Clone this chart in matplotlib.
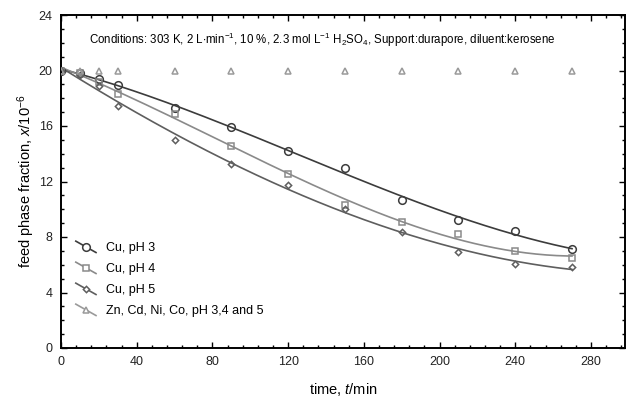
import matplotlib
matplotlib.use("Agg")
import matplotlib.pyplot as plt
import numpy as np
from matplotlib.legend_handler import HandlerBase
from matplotlib.lines import Line2D

plt.rcParams['font.family'] = ['Liberation Sans', 'DejaVu Sans']
plt.rcParams['mathtext.fontset'] = 'custom'
plt.rcParams['mathtext.rm'] = 'Liberation Sans'
plt.rcParams['mathtext.it'] = 'Liberation Sans:italic'

# sampling times (min)
t = [0, 10, 20, 30, 60, 90, 120, 150, 180, 210, 240, 270]

# feed phase fraction x/10^-6
cu_ph3 = [20.0, 19.85, 19.4, 18.95, 17.3, 15.9, 14.2, 12.95, 10.7, 9.25, 8.4, 7.1]
cu_ph4 = [20.0, 19.85, 19.2, 18.3, 16.85, 14.55, 12.55, 10.3, 9.1, 8.2, 7.0, 6.5]
cu_ph5 = [20.0, 19.7, 18.9, 17.45, 15.0, 13.25, 11.75, 10.05, 8.35, 6.9, 6.05, 5.85]
others = [20.0] * len(t)

labels = ['Cu, pH 3', 'Cu, pH 4', 'Cu, pH 5', 'Zn, Cd, Ni, Co, pH 3,4 and 5']
colors = ['#3c3c3c', '#8a8a8a', '#5e5e5e', '#9a9a9a']
line_colors = ['#3c3c3c', '#8a8a8a', '#5e5e5e', '#9a9a9a']
markers = ['o', 's', 'D', '^']
msizes = [5.5, 5, 3.2, 4]


class SlantHandler(HandlerBase):
    # legend key drawn as a short descending line with the marker in the middle
    def create_artists(self, legend, orig, xdescent, ydescent, width, height,
                       fontsize, trans):
        x0, x1 = -xdescent + width * 0.15, -xdescent + width
        y0, y1 = -ydescent + height * 1.1, -ydescent - height * 0.2
        ln = Line2D([x0, x1], [y0, y1], color=orig.get_color(), lw=1.2)
        mk = Line2D([(x0 + x1) / 2], [(y0 + y1) / 2], marker=orig.get_marker(),
                    markersize=orig.get_markersize(), markerfacecolor='white',
                    markeredgecolor=orig.get_markeredgecolor(),
                    markeredgewidth=1.1, linestyle='none')
        for a in (ln, mk):
            a.set_transform(trans)
        return [ln, mk]


fig = plt.figure(figsize=(6.31, 3.99), dpi=100)
ax = fig.add_axes([61 / 631, 1 - 348 / 399, (625 - 61) / 631, (348 - 15) / 399])

tt = np.linspace(0, 270, 200)
series = [cu_ph3, cu_ph4, cu_ph5, others]
handles = []
for i, ys in enumerate(series):
    if i < 3:
        coef = np.polyfit(t, ys, 3)
        ax.plot(tt, np.polyval(coef, tt), color=line_colors[i], lw=1.2, zorder=2)
    ax.plot(t, ys, linestyle='none', marker=markers[i], markersize=msizes[i],
            markerfacecolor='none', markeredgecolor=colors[i],
            markeredgewidth=1.1, zorder=3)
    handles.append(Line2D([], [], color=line_colors[i], marker=markers[i],
                          markersize=msizes[i], markeredgecolor=colors[i]))

ax.set_xlim(0, 298)
ax.set_ylim(0, 24)
ax.set_xticks(np.arange(0, 281, 40))
ax.set_xticks(np.arange(0, 298, 8), minor=True)
ax.set_yticks(np.arange(0, 25, 4))
ax.set_yticks(np.arange(0, 25, 1), minor=True)
ax.tick_params(which='both', direction='in', top=True, right=True,
               labelsize=9, width=1, pad=6, labelcolor='#222222')
ax.tick_params(which='major', length=4)
ax.tick_params(which='minor', length=2)
for s in ax.spines.values():
    s.set_linewidth(1.4)

ax.set_xlabel('time, $\\it{t}$/min', fontsize=10.5, labelpad=9)
ax.set_ylabel('feed phase fraction, $\\it{x}$/10$^{-6}$', fontsize=10.5,
              labelpad=1)

ax.text(0.464, 0.925,
        'Conditions: 303 K, 2 L$\\cdot$min$^{-1}$, 10 %, 2.3 mol L$^{-1}$ '
        'H$_2$SO$_4$, Support:durapore, diluent:kerosene',
        transform=ax.transAxes, ha='center', va='center', fontsize=8.3)

ax.legend(handles, labels, loc='lower left', bbox_to_anchor=(0.0, 0.06),
          frameon=False, fontsize=9, handlelength=1.9, handletextpad=0.8,
          labelspacing=0.72, handler_map={Line2D: SlantHandler()})

fig.savefig('out.png', dpi=100)
